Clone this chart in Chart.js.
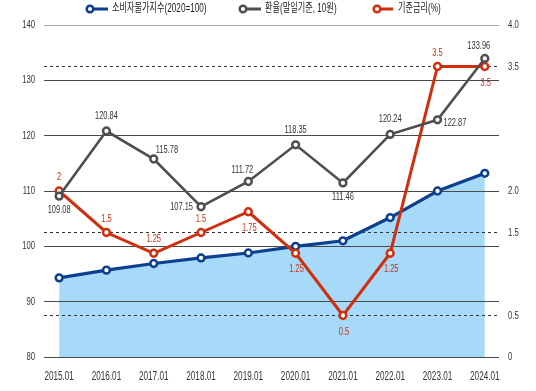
<!DOCTYPE html>
<html lang="ko">
<head>
<meta charset="utf-8">
<script src="https://cdn.jsdelivr.net/npm/chart.js@4"></script>
<style>
  html, body { margin: 0; padding: 0; background: #fff; }
  #wrap { width: 536px; height: 391px; position: relative; }
</style>
</head>
<body>
<div id="wrap"><canvas id="chart"></canvas></div>
<script>
// 데이터
const periods = ['2015.01', '2016.01', '2017.01', '2018.01', '2019.01', '2020.01', '2021.01', '2022.01', '2023.01', '2024.01'];
const cpi = [94.3, 95.7, 96.9, 97.9, 98.8, 100.0, 101.0, 105.2, 110.0, 113.2];
const fxRate = [109.08, 120.84, 115.78, 107.15, 111.72, 118.35, 111.46, 120.24, 122.87, 133.96];
const baseRate = [2, 1.5, 1.25, 1.5, 1.75, 1.25, 0.5, 1.25, 3.5, 3.5];
const leftTicks = [80, 90, 100, 110, 120, 130, 140];
const rightTicks = [0, 0.5, 1.5, 2, 3.5, 4];
const dashedTicks = [0.5, 1.5, 3.5];
const seriesNames = ['소비자물가지수(2020=100)', '환율(말일기준, 10원)', '기준금리(%)'];

// 라벨 위치 (점 기준)
const fxLabelPos = ['below', 'above', 'upright', 'left', 'aboveleft', 'above', 'below', 'above', 'right', 'aboveleft'];
const rateLabelPos = ['above', 'above', 'above', 'above', 'below', 'below', 'below', 'below', 'above', 'below'];

const BLUE = '#0d3f8f';
const GRAY = '#4f4f4f';
const RED = '#cf2f0c';
const FILL = '#a7d9f8';
const FONT = "'Liberation Sans', 'Noto Sans CJK KR', sans-serif";

// 좁은 글꼴 흉내 (가로로 눌러서 그림)
function condensedText(ctx, text, x, y, align, sx) {
    ctx.save();
    ctx.translate(x, y);
    ctx.scale(sx, 1);
    ctx.textAlign = align;
    ctx.textBaseline = 'middle';
    ctx.fillText(text, 0, 0);
    ctx.restore();
}

// 범례
const legendPlugin = {
    id: 'customLegend',
    afterDraw(chart) {
        const ctx = chart.ctx;
        const items = [
            { x: 90, lineEnd: 108, textX: 112, color: BLUE },
            { x: 243, lineEnd: 261, textX: 265, color: GRAY },
            { x: 377, lineEnd: 393, textX: 398, color: RED }
        ];
        const y = 9;
        items.forEach((it, i) => {
            ctx.save();
            ctx.strokeStyle = it.color;
            ctx.lineWidth = 3;
            ctx.beginPath();
            ctx.moveTo(it.x + 3, y);
            ctx.lineTo(it.lineEnd, y);
            ctx.stroke();
            ctx.beginPath();
            ctx.arc(it.x, y, 3.3, 0, Math.PI * 2);
            ctx.fillStyle = '#fff';
            ctx.fill();
            ctx.lineWidth = 2.5;
            ctx.stroke();
            ctx.fillStyle = '#222';
            ctx.font = '12px ' + FONT;
            condensedText(ctx, seriesNames[i], it.textX, y, 'left', 0.68);
            ctx.restore();
        });
    }
};

// 축 라벨 (스케일 위치 사용)
const tickLabelPlugin = {
    id: 'tickLabels',
    afterDraw(chart) {
        const ctx = chart.ctx;
        const area = chart.chartArea;
        const sx = chart.scales.x, sy = chart.scales.y, sy1 = chart.scales.y1;
        ctx.save();
        ctx.fillStyle = '#333';
        ctx.font = '12px ' + FONT;
        sx.ticks.forEach(t => {
            condensedText(ctx, periods[t.value], sx.getPixelForValue(t.value), area.bottom + 20, 'center', 0.68);
        });
        ctx.font = '11px ' + FONT;
        sy.ticks.forEach(t => {
            condensedText(ctx, String(t.value), area.left - 9, sy.getPixelForValue(t.value), 'right', 0.7);
        });
        sy1.ticks.forEach(t => {
            const txt = t.value === 0 ? '0' : t.value.toFixed(1);
            condensedText(ctx, txt, area.right + 9, sy1.getPixelForValue(t.value), 'left', 0.7);
        });
        ctx.restore();
    }
};

// 값 라벨
const valueLabelPlugin = {
    id: 'valueLabels',
    afterDatasetsDraw(chart) {
        const ctx = chart.ctx;
        const k = 0.68;
        ctx.save();
        ctx.font = '11px ' + FONT;
        chart.getDatasetMeta(1).data.forEach((pt, i) => {
            ctx.fillStyle = '#333';
            const t = fxRate[i].toFixed(2);
            const p = fxLabelPos[i];
            if (p === 'below') condensedText(ctx, t, pt.x, pt.y + 14, 'center', k);
            else if (p === 'above') condensedText(ctx, t, pt.x, pt.y - 15, 'center', k);
            else if (p === 'aboveleft') condensedText(ctx, t, pt.x - 6, pt.y - 12, 'center', k);
            else if (p === 'upright') condensedText(ctx, t, pt.x + 2, pt.y - 9, 'left', k);
            else if (p === 'left') condensedText(ctx, t, pt.x - 8, pt.y, 'right', k);
            else if (p === 'right') condensedText(ctx, t, pt.x + 6, pt.y + 3, 'left', k);
        });
        chart.getDatasetMeta(2).data.forEach((pt, i) => {
            ctx.fillStyle = '#c8321a';
            const t = String(baseRate[i]);
            if (rateLabelPos[i] === 'above') condensedText(ctx, t, pt.x, pt.y - 14, 'center', k);
            else condensedText(ctx, t, pt.x + 1, pt.y + 16, 'center', k);
        });
        ctx.restore();
    }
};

const toXY = arr => arr.map((v, i) => ({ x: i, y: v }));

function lineDataset(label, values, color, axis, order, width) {
    return {
        label: label,
        data: toXY(values),
        yAxisID: axis,
        order: order,
        borderColor: color,
        borderWidth: width,
        pointRadius: 3.4,
        pointBorderWidth: 2.5,
        pointBackgroundColor: '#fff',
        pointBorderColor: color,
        tension: 0,
        fill: false
    };
}

const cpiSet = lineDataset(seriesNames[0], cpi, BLUE, 'y', 2, 3.2);
cpiSet.fill = 'start';
cpiSet.backgroundColor = FILL;

new Chart(document.getElementById('chart'), {
    type: 'line',
    data: {
        datasets: [
            cpiSet,
            lineDataset(seriesNames[1], fxRate, GRAY, 'y', 0, 2.6),
            lineDataset(seriesNames[2], baseRate, RED, 'y1', 1, 3)
        ]
    },
    options: {
        responsive: true,
        maintainAspectRatio: false,
        animation: false,
        layout: { padding: { top: 25, left: 0, right: 0, bottom: 0 } },
        plugins: {
            legend: { display: false },
            tooltip: { enabled: false },
            filler: { drawTime: 'beforeDraw' }
        },
        scales: {
            x: {
                type: 'linear',
                min: -0.32,
                max: 9.3,
                afterBuildTicks: s => { s.ticks = periods.map((_, i) => ({ value: i })); },
                afterFit: s => { s.height = 34; },
                grid: { display: false },
                border: { display: false },
                ticks: { display: false }
            },
            y: {
                position: 'left',
                min: 80,
                max: 140,
                afterBuildTicks: s => { s.ticks = leftTicks.map(v => ({ value: v })); },
                afterFit: s => { s.width = 44; },
                border: { display: false },
                grid: {
                    drawTicks: false,
                    lineWidth: 1,
                    color: c => c.tick && c.tick.value === 140 ? '#a8a8a8' : '#4a4a4a'
                },
                ticks: { display: false }
            },
            y1: {
                position: 'right',
                min: 0,
                max: 4,
                afterBuildTicks: s => { s.ticks = rightTicks.map(v => ({ value: v })); },
                afterFit: s => { s.width = 37; },
                border: { display: false, dash: [3, 3] },
                grid: {
                    drawTicks: false,
                    lineWidth: c => c.tick && dashedTicks.includes(c.tick.value) ? 1 : 0,
                    color: '#333'
                },
                ticks: { display: false }
            }
        }
    },
    plugins: [valueLabelPlugin, tickLabelPlugin, legendPlugin]
});
</script>
</body>
</html>
